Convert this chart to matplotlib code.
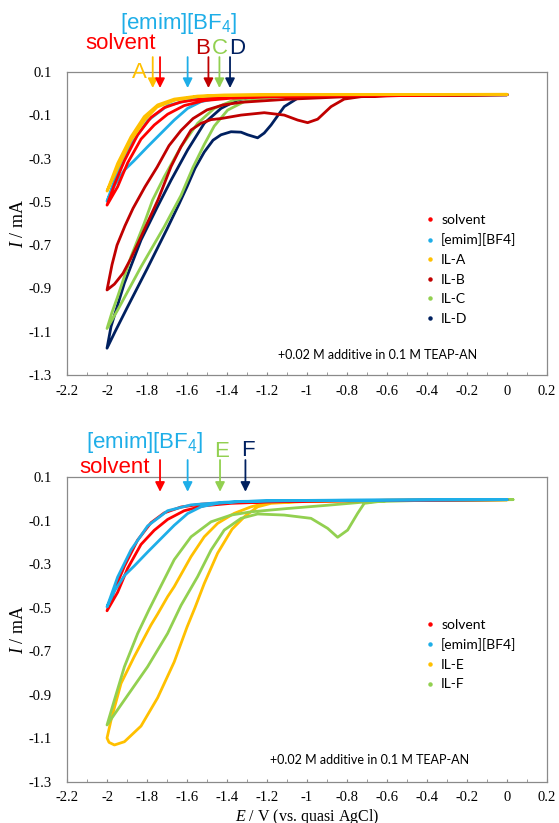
import matplotlib
matplotlib.use("Agg")
import matplotlib.pyplot as plt
from matplotlib.lines import Line2D
from matplotlib.ticker import MultipleLocator

# Data ------------------------------------------------------------------------
xtick_vals = [-2.2, -2.0, -1.8, -1.6, -1.4, -1.2, -1.0, -0.8, -0.6, -0.4, -0.2, 0.0, 0.2]
xtick_labels = ["-2.2", "-2", "-1.8", "-1.6", "-1.4", "-1.2", "-1", "-0.8",
                "-0.6", "-0.4", "-0.2", "0", "0.2"]
ytick_vals = [0.1, -0.1, -0.3, -0.5, -0.7, -0.9, -1.1, -1.3]
ytick_labels = ["0.1", "-0.1", "-0.3", "-0.5", "-0.7", "-0.9", "-1.1", "-1.3"]

solvent_E = [0.0, -0.6, -1.0, -1.2, -1.4, -1.53, -1.63, -1.714, -1.78, -1.847,
             -1.913, -1.963, -2.0, -1.947, -1.897, -1.83, -1.764, -1.697, -1.614,
             -1.514, -1.38, -1.2, -1.0, -0.6, 0.0]
solvent_I = [-0.004, -0.007, -0.010, -0.013, -0.018, -0.025, -0.038, -0.065, -0.11,
             -0.19, -0.31, -0.42, -0.515, -0.43, -0.32, -0.21, -0.145, -0.095,
             -0.055, -0.032, -0.021, -0.015, -0.011, -0.008, -0.004]

emim_E = [0.0, -0.8, -1.2, -1.415, -1.58, -1.697, -1.797, -1.88, -1.947, -2.0,
          -1.96, -1.913, -1.865, -1.797, -1.73, -1.664, -1.597, -1.53, -1.447,
          -1.33, -1.0, -0.5, 0.0]
emim_I = [-0.004, -0.006, -0.009, -0.016, -0.028, -0.055, -0.125, -0.235, -0.36,
          -0.497, -0.42, -0.353, -0.31, -0.245, -0.183, -0.122, -0.068, -0.037,
          -0.021, -0.012, -0.008, -0.006, -0.004]

ilA_E = [0.0, -0.8, -1.2, -1.415, -1.547, -1.664, -1.747, -1.814, -1.88, -1.947,
         -2.0, -1.95, -1.88, -1.81, -1.75, -1.66, -1.55, -1.42, -1.2, -0.6, 0.0]
ilA_I = [-0.003, -0.004, -0.005, -0.006, -0.011, -0.025, -0.052, -0.106, -0.199,
         -0.322, -0.45, -0.35, -0.215, -0.12, -0.062, -0.03, -0.014, -0.008,
         -0.006, -0.004, -0.003]

ilB_E = [0.0, -0.5, -0.73, -0.814, -0.88, -0.947, -0.997, -1.047, -1.114, -1.214,
         -1.33, -1.43, -1.48, -1.53, -1.58, -1.63, -1.68, -1.745, -1.83, -1.88,
         -1.92, -1.963, -2.0, -1.99, -1.975, -1.95, -1.91, -1.87, -1.81, -1.75,
         -1.69, -1.63, -1.57, -1.5, -1.42, -1.33, -1.2, -1.1, -0.95, -0.8, -0.6, 0.0]
ilB_I = [-0.005, -0.008, -0.014, -0.025, -0.06, -0.118, -0.134, -0.122, -0.099,
         -0.088, -0.099, -0.115, -0.12, -0.137, -0.168, -0.245, -0.337, -0.49,
         -0.661, -0.76, -0.83, -0.88, -0.907, -0.86, -0.79, -0.70, -0.61, -0.53,
         -0.43, -0.34, -0.24, -0.17, -0.115, -0.075, -0.052, -0.04, -0.032,
         -0.026, -0.02, -0.014, -0.009, -0.005]

ilC_E = [0.0, -0.8, -1.1, -1.214, -1.314, -1.397, -1.464, -1.514, -1.57, -1.63,
         -1.714, -1.83, -1.947, -2.0, -1.975, -1.947, -1.88, -1.814, -1.772,
         -1.714, -1.63, -1.547, -1.464, -1.364, -1.247, -1.0, -0.5, 0.0]
ilC_I = [-0.004, -0.007, -0.012, -0.021, -0.037, -0.076, -0.15, -0.235, -0.34,
         -0.47, -0.615, -0.8, -1.0, -1.085, -1.01, -0.938, -0.753, -0.599, -0.491,
         -0.384, -0.245, -0.137, -0.068, -0.029, -0.014, -0.009, -0.006, -0.004]

ilD_E = [0.0, -0.8, -0.965, -1.047, -1.114, -1.18, -1.214, -1.247, -1.297, -1.33,
         -1.38, -1.43, -1.47, -1.514, -1.56, -1.6, -1.64, -1.7, -1.8, -1.9, -1.96,
         -2.0, -1.98, -1.9135, -1.83, -1.7465, -1.68, -1.597, -1.514, -1.43,
         -1.347, -1.247, -1.0, -0.5, 0.0]
ilD_I = [-0.005, -0.008, -0.011, -0.021, -0.06, -0.145, -0.182, -0.204, -0.19,
         -0.178, -0.176, -0.19, -0.215, -0.27, -0.345, -0.43, -0.51, -0.625,
         -0.81, -0.99, -1.10, -1.176, -1.076, -0.876, -0.676, -0.52, -0.40, -0.26,
         -0.137, -0.068, -0.029, -0.011, -0.008, -0.006, -0.005]

ilE_E = [0.0, -0.6, -1.0, -1.18, -1.247, -1.31, -1.375, -1.447, -1.514, -1.56,
         -1.6, -1.664, -1.747, -1.83, -1.913, -1.963, -1.99, -2.0, -1.98, -1.93,
         -1.864, -1.78, -1.747, -1.697, -1.664, -1.58, -1.514, -1.447, -1.364,
         -1.28, -1.197, -1.0, -0.6, 0.0]
ilE_I = [-0.005, -0.007, -0.012, -0.021, -0.037, -0.08, -0.14, -0.25, -0.39, -0.5,
         -0.59, -0.75, -0.915, -1.045, -1.117, -1.132, -1.12, -1.10, -1.018,
         -0.849, -0.726, -0.58, -0.53, -0.45, -0.404, -0.266, -0.175, -0.113,
         -0.067, -0.037, -0.018, -0.011, -0.007, -0.005]

ilF_E = [0.03, -0.6, -0.714, -0.747, -0.797, -0.847, -0.897, -0.98, -1.114, -1.247,
         -1.33, -1.414, -1.48, -1.547, -1.63, -1.697, -1.797, -1.913, -2.0, -1.963,
         -1.913, -1.847, -1.79, -1.73, -1.664, -1.58, -1.48, -1.38, -1.28, -1.1,
         -0.9, -0.7, -0.4, 0.03]
ilF_I = [-0.004, -0.008, -0.021, -0.067, -0.144, -0.177, -0.136, -0.09, -0.075,
         -0.07, -0.09, -0.144, -0.236, -0.358, -0.49, -0.619, -0.772, -0.925,
         -1.04, -0.925, -0.772, -0.62, -0.51, -0.40, -0.28, -0.175, -0.106, -0.075,
         -0.06, -0.045, -0.03, -0.014, -0.007, -0.004]

top_labels = ["solvent", "[emim][BF4]", "IL-A", "IL-B", "IL-C", "IL-D"]
bottom_labels = ["solvent", "[emim][BF4]", "IL-E", "IL-F"]

# arrow positions (E) for the onset markers
top_arrows = [-1.7715, -1.735, -1.597, -1.493, -1.438, -1.385]
bottom_arrows = [-1.735, -1.597, -1.435, -1.308]

# Style -----------------------------------------------------------------------
RED = "#FF0000"
BLUE = "#1EAEE8"
YELLOW = "#FFC000"
DARKRED = "#C00000"
GREEN = "#92D050"
NAVY = "#002060"
SPINE = "#8A8A8A"

plt.rcParams["font.family"] = "Liberation Serif"
plt.rcParams["mathtext.fontset"] = "custom"
plt.rcParams["mathtext.rm"] = "Liberation Sans"
plt.rcParams["mathtext.it"] = "Liberation Serif:italic"

fig = plt.figure(figsize=(5.59, 8.23), dpi=100)
ax1 = fig.add_axes([0.1199, 0.5443, 0.8587, 0.3682])
ax2 = fig.add_axes([0.1199, 0.0504, 0.8587, 0.3700])


def style_axes(ax):
    ax.set_xlim(-2.2, 0.2)
    ax.set_ylim(-1.3, 0.1)
    ax.set_xticks(xtick_vals)
    ax.set_xticklabels(xtick_labels)
    ax.xaxis.set_minor_locator(MultipleLocator(0.1))
    ax.set_yticks(ytick_vals)
    ax.set_yticklabels(ytick_labels)
    ax.tick_params(axis="x", which="both", direction="in", length=2.5,
                   color=SPINE, labelsize=10.5, pad=7)
    ax.tick_params(axis="y", length=0, labelsize=10.5, pad=11)
    for s in ax.spines.values():
        s.set_color(SPINE)
        s.set_linewidth(0.9)
    ax.set_ylabel(r"$I$ / mA", fontsize=13, labelpad=1)


def cv(ax, E, I, c):
    ax.plot(E, I, color=c, lw=2.0, solid_joinstyle="round", solid_capstyle="round")


def arrow(ax, E, c, tail, tip):
    ax.annotate("", xy=(E, tip), xytext=(E, tail),
                arrowprops=dict(arrowstyle="-|>", color=c, lw=1.3,
                                mutation_scale=14, shrinkA=0, shrinkB=0),
                annotation_clip=False)


def label(ax, E, I, s, c):
    ax.text(E, I, s, color=c, fontsize=16, family="Liberation Sans",
            ha="center", va="center", clip_on=False)


def legend(ax, labels, colors, anchor):
    handles = [Line2D([], [], ls="none", marker="o", ms=2.2, color=c) for c in colors]
    ax.legend(handles, labels, loc="upper left", bbox_to_anchor=anchor,
              frameon=False, prop=dict(family="Lato", size=10), handlelength=1.0,
              handletextpad=0.3, labelspacing=0.55, borderpad=0, borderaxespad=0)


# Top panel -------------------------------------------------------------------
style_axes(ax1)
cv(ax1, ilD_E, ilD_I, NAVY)
cv(ax1, ilC_E, ilC_I, GREEN)
cv(ax1, ilB_E, ilB_I, DARKRED)
cv(ax1, emim_E, emim_I, BLUE)
cv(ax1, solvent_E, solvent_I, RED)
cv(ax1, ilA_E, ilA_I, YELLOW)

for E, c in zip(top_arrows, [YELLOW, RED, BLUE, DARKRED, GREEN, NAVY]):
    arrow(ax1, E, c, 0.169, 0.026)
label(ax1, -1.84, 0.10, "A", YELLOW)
label(ax1, -1.93, 0.232, "solvent", RED)
label(ax1, -1.64, 0.325, "[emim][BF$_4$]", BLUE)
label(ax1, -1.52, 0.21, "B", DARKRED)
label(ax1, -1.435, 0.21, "C", GREEN)
label(ax1, -1.347, 0.21, "D", NAVY)

legend(ax1, top_labels, [RED, BLUE, YELLOW, DARKRED, GREEN, NAVY], (0.742, 0.532))
ax1.text(0.647, 0.066, "+0.02 M additive in 0.1 M TEAP-AN", transform=ax1.transAxes,
         family="Lato", fontsize=9, ha="center", va="center")

# Bottom panel ----------------------------------------------------------------
style_axes(ax2)
cv(ax2, ilE_E, ilE_I, YELLOW)
cv(ax2, ilF_E, ilF_I, GREEN)
cv(ax2, solvent_E, solvent_I, RED)
cv(ax2, emim_E, emim_I, BLUE)

for E, c in zip(bottom_arrows, [RED, BLUE, GREEN, NAVY]):
    arrow(ax2, E, c, 0.178, 0.032)
label(ax2, -1.9625, 0.146, "solvent", RED)
label(ax2, -1.81, 0.26, "[emim][BF$_4$]", BLUE)
label(ax2, -1.425, 0.215, "E", GREEN)
label(ax2, -1.295, 0.22, "F", NAVY)

legend(ax2, bottom_labels, [RED, BLUE, YELLOW, GREEN], (0.742, 0.535))
ax2.text(0.631, 0.0706, "+0.02 M additive in 0.1 M TEAP-AN", transform=ax2.transAxes,
         family="Lato", fontsize=9, ha="center", va="center")
ax2.set_xlabel(r"$E$ / V (vs. quasi AgCl)", fontsize=11.5, labelpad=2)

fig.savefig("out.png", dpi=100)
